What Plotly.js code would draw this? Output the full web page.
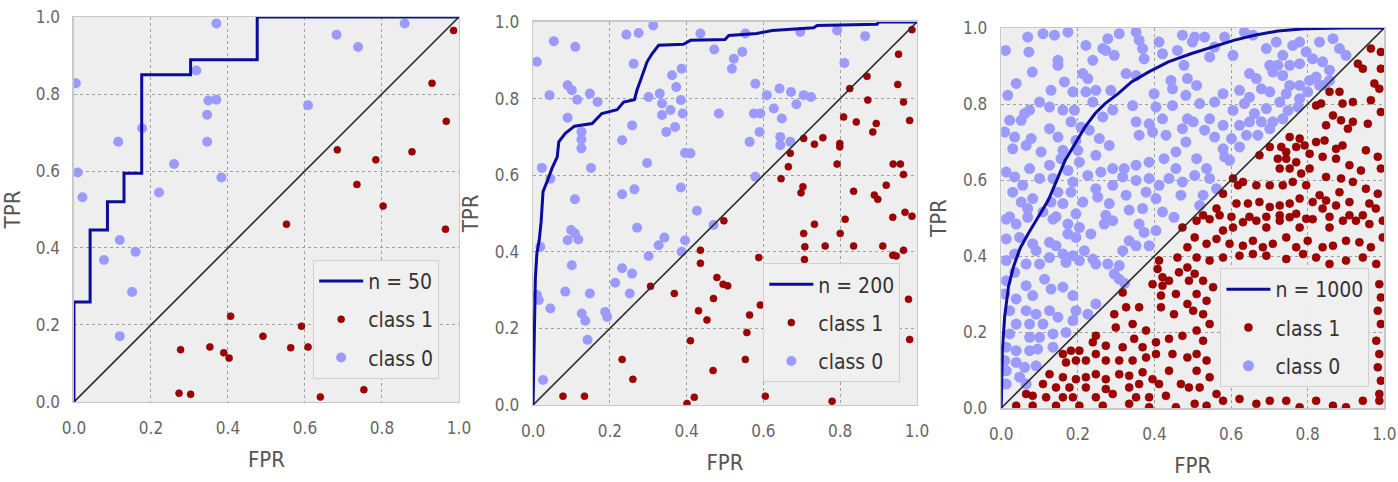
<!DOCTYPE html>
<html>
<head>
<meta charset="utf-8">
<script src="https://cdn.plot.ly/plotly-3.0.1.min.js"></script>
<style>html,body{margin:0;padding:0;background:#fff;}#chart{width:1398px;height:482px;}</style>
</head>
<body>
<div id="chart"></div>
<script>
// ---------------- DATA ----------------
const tickVals = [0, 0.2, 0.4, 0.6, 0.8, 1.0];
const tickText = ["0.0", "0.2", "0.4", "0.6", "0.8", "1.0"];
const diagX = [0, 1];
const diagY = [0, 1];
const legendNames = ["n = 50", "n = 200", "n = 1000"];

// Panel 1 (n = 50)
const p1_fpr = [0, 0, 0.042, 0.042, 0.087, 0.087, 0.13, 0.13, 0.176, 0.176, 0.303, 0.303, 0.476, 0.476, 1.0];
const p1_tpr = [0, 0.26, 0.26, 0.447, 0.447, 0.52, 0.52, 0.594, 0.594, 0.85, 0.85, 0.889, 0.889, 1.0, 1.0];
const p1_class0 = [[0.370,0.983],[0.005,0.828],[0.318,0.861],[0.349,0.783],[0.370,0.785],[0.346,0.746],[0.346,0.676],
  [0.177,0.711],[0.115,0.676],[0.010,0.596],[0.022,0.532],[0.260,0.618],[0.221,0.544],[0.383,0.583],[0.608,0.771],
  [0.682,0.954],[0.738,0.922],[0.859,0.983],[0.119,0.421],[0.078,0.369],[0.160,0.390],[0.151,0.286],[0.119,0.171]];
const p1_class1 = [[0.986,0.965],[0.930,0.828],[0.967,0.729],[0.684,0.655],[0.878,0.650],[0.784,0.629],[0.735,0.565],
  [0.803,0.509],[0.552,0.462],[0.965,0.449],[0.407,0.223],[0.591,0.197],[0.491,0.171],[0.277,0.136],[0.353,0.143],
  [0.389,0.128],[0.403,0.114],[0.563,0.141],[0.608,0.143],[0.273,0.023],[0.303,0.020],[0.640,0.013],[0.753,0.032]];

// Panel 2 (n = 200)
const p2_fpr = [0, 0.006, 0.010, 0.016, 0.021, 0.026, 0.038, 0.049, 0.063, 0.067, 0.084, 0.108, 0.154, 0.179, 0.219,
  0.236, 0.264, 0.271, 0.280, 0.297, 0.310, 0.327, 0.392, 0.410, 0.500, 0.510, 0.583, 0.623, 0.731, 0.740, 0.896, 0.900, 1.0];
const p2_tpr = [0, 0.330, 0.396, 0.430, 0.478, 0.557, 0.587, 0.617, 0.648, 0.687, 0.709, 0.728, 0.735, 0.761, 0.771,
  0.791, 0.797, 0.823, 0.848, 0.896, 0.917, 0.939, 0.942, 0.952, 0.954, 0.965, 0.970, 0.978, 0.985, 0.991, 0.994, 1.0, 1.0];
const p2_class0 = [[0.010,0.896],[0.054,0.950],[0.110,0.935],[0.243,0.967],[0.275,0.971],[0.313,0.991],[0.262,0.891],
  [0.043,0.809],[0.090,0.835],[0.101,0.822],[0.115,0.797],[0.148,0.813],[0.168,0.791],[0.090,0.750],[0.126,0.713],
  [0.126,0.693],[0.126,0.670],[0.151,0.619],[0.023,0.619],[0.045,0.591],[0.232,0.691],[0.258,0.730],[0.301,0.804],
  [0.330,0.813],[0.336,0.787],[0.336,0.757],[0.358,0.770],[0.347,0.713],[0.370,0.726],[0.362,0.861],[0.373,0.830],
  [0.387,0.878],[0.385,0.796],[0.390,0.761],[0.396,0.658],[0.410,0.657],[0.436,0.970],[0.472,0.928],[0.523,0.904],
  [0.518,0.878],[0.545,0.922],[0.553,0.970],[0.484,0.761],[0.579,0.839],[0.575,0.761],[0.592,0.761],[0.564,0.687],
  [0.590,0.713],[0.609,0.809],[0.642,0.826],[0.627,0.774],[0.648,0.748],[0.644,0.700],[0.644,0.678],[0.672,0.817],
  [0.686,0.785],[0.670,0.687],[0.705,0.809],[0.724,0.804],[0.696,0.974],[0.792,0.978],[0.865,0.963],[0.811,0.893],
  [0.579,0.596],[0.470,0.470],[0.427,0.507],[0.396,0.430],[0.387,0.400],[0.342,0.437],[0.327,0.417],[0.301,0.389],
  [0.297,0.632],[0.264,0.563],[0.232,0.550],[0.385,0.568],[0.271,0.463],[0.109,0.537],[0.099,0.457],[0.090,0.430],
  [0.118,0.432],[0.109,0.448],[0.101,0.365],[0.084,0.296],[0.148,0.291],[0.127,0.239],[0.136,0.220],[0.142,0.170],
  [0.045,0.252],[0.015,0.274],[0.010,0.287],[0.019,0.413],[0.188,0.243],[0.193,0.230],[0.214,0.319],[0.232,0.357],
  [0.258,0.343],[0.252,0.291],[0.026,0.065]];
const p2_class1 = [[0.987,0.980],[0.952,0.916],[0.950,0.837],[0.870,0.858],[0.872,0.796],[0.965,0.791],[0.825,0.826],
  [0.809,0.752],[0.842,0.739],[0.894,0.735],[0.885,0.713],[0.981,0.743],[0.705,0.696],[0.733,0.681],[0.755,0.698],
  [0.799,0.683],[0.799,0.674],[0.670,0.657],[0.665,0.622],[0.646,0.591],[0.703,0.570],[0.698,0.554],[0.792,0.629],
  [0.835,0.558],[0.938,0.629],[0.957,0.629],[0.965,0.602],[0.920,0.574],[0.889,0.548],[0.898,0.537],[0.733,0.472],
  [0.705,0.448],[0.708,0.413],[0.813,0.485],[0.800,0.448],[0.761,0.415],[0.835,0.415],[0.911,0.415],[0.937,0.391],
  [0.946,0.389],[0.965,0.404],[0.937,0.490],[0.969,0.503],[0.987,0.493],[0.707,0.380],[0.497,0.481],[0.436,0.404],
  [0.436,0.370],[0.479,0.333],[0.495,0.315],[0.507,0.311],[0.470,0.278],[0.368,0.291],[0.306,0.310],[0.431,0.246],
  [0.453,0.222],[0.564,0.235],[0.557,0.189],[0.592,0.261],[0.588,0.385],[0.410,0.168],[0.232,0.119],[0.260,0.067],
  [0.469,0.090],[0.553,0.119],[0.078,0.023],[0.134,0.023],[0.420,0.020],[0.401,0.004],[0.605,0.023],[0.779,0.010],
  [0.978,0.276],[0.981,0.171]];

// Panel 3 (n = 1000)
const p3_fpr = [0, 0.003, 0.009, 0.019, 0.032, 0.049, 0.071, 0.097, 0.123, 0.149, 0.167, 0.193, 0.219, 0.245, 0.271,
  0.306, 0.340, 0.384, 0.436, 0.497, 0.549, 0.609, 0.661, 0.722, 0.792, 0.896, 1.0];
const p3_tpr = [0, 0.153, 0.241, 0.320, 0.372, 0.420, 0.460, 0.504, 0.547, 0.609, 0.652, 0.696, 0.740, 0.775, 0.801,
  0.828, 0.858, 0.884, 0.911, 0.933, 0.950, 0.968, 0.981, 0.992, 0.998, 1.0, 1.0];
const p3_class0 = [
  [0.011,0.941],[0.069,0.976],[0.072,0.937],[0.109,0.985],[0.139,0.981],[0.174,0.989],[0.148,0.915],[0.148,0.902],
  [0.081,0.884],[0.039,0.854],[0.017,0.823],[0.130,0.836],[0.165,0.858],[0.221,0.954],[0.239,0.915],[0.278,0.972],
  [0.273,0.941],[0.295,0.928],[0.265,0.946],[0.308,0.985],[0.352,0.989],[0.360,0.968],[0.369,0.946],[0.373,0.919],
  [0.412,0.963],[0.421,0.932],[0.460,0.941],[0.473,0.981],[0.499,0.963],[0.326,0.880],[0.352,0.875],[0.213,0.880],
  [0.226,0.867],[0.187,0.832],[0.221,0.832],[0.247,0.836],[0.286,0.836],[0.239,0.805],[0.100,0.805],[0.126,0.792],
  [0.074,0.784],[0.061,0.775],[0.161,0.784],[0.191,0.784],[0.182,0.753],[0.208,0.739],[0.126,0.735],[0.022,0.757],
  [0.052,0.757],[0.009,0.726],[0.035,0.713],[0.078,0.709],[0.065,0.691],[0.030,0.682],[0.148,0.713],[0.161,0.678],
  [0.104,0.674],[0.195,0.704],[0.200,0.678],[0.230,0.731],[0.256,0.709],[0.282,0.691],[0.247,0.665],[0.204,0.647],
  [0.156,0.656],[0.126,0.639],[0.074,0.630],[0.035,0.608],[0.013,0.621],[0.056,0.586],[0.100,0.604],[0.135,0.604],
  [0.174,0.625],[0.187,0.595],[0.226,0.612],[0.260,0.621],[0.291,0.630],[0.321,0.630],[0.352,0.639],[0.317,0.608],
  [0.352,0.599],[0.386,0.604],[0.386,0.647],[0.291,0.586],[0.247,0.577],[0.182,0.568],[0.148,0.568],[0.130,0.542],
  [0.082,0.551],[0.052,0.542],[0.030,0.568],[0.069,0.525],[0.022,0.503],[0.109,0.516],[0.161,0.538],[0.213,0.542],
  [0.252,0.555],[0.282,0.538],[0.326,0.560],[0.378,0.568],[0.412,0.586],[0.438,0.604],[0.404,0.551],[0.421,0.516],
  [0.369,0.525],[0.334,0.521],[0.273,0.507],[0.195,0.511],[0.143,0.503],[0.469,0.560],[0.473,0.595],[0.456,0.630],
  [0.425,0.656],[0.456,0.674],[0.482,0.700],[0.473,0.735],[0.430,0.718],[0.395,0.726],[0.360,0.718],[0.352,0.753],
  [0.386,0.748],[0.421,0.761],[0.447,0.796],[0.486,0.761],[0.447,0.840],[0.399,0.827],[0.343,0.796],[0.291,0.784],
  [0.265,0.766],[0.404,0.792],[0.482,0.823],[0.486,0.867],[0.443,0.862],[0.477,0.902],
  [0.505,0.976],[0.531,0.976],[0.557,0.950],[0.583,0.976],[0.544,0.924],[0.605,0.928],[0.635,0.989],[0.657,0.981],
  [0.692,0.946],[0.718,0.963],[0.735,0.928],[0.761,0.954],[0.779,0.963],[0.796,0.937],[0.831,0.963],[0.866,0.972],
  [0.883,0.946],[0.900,0.928],[0.722,0.902],[0.753,0.902],[0.779,0.906],[0.813,0.919],[0.839,0.911],[0.857,0.889],
  [0.822,0.871],[0.701,0.902],[0.666,0.867],[0.648,0.880],[0.679,0.840],[0.709,0.884],[0.735,0.875],[0.753,0.849],
  [0.779,0.849],[0.805,0.862],[0.831,0.849],[0.845,0.850],[0.857,0.862],[0.510,0.849],[0.579,0.827],[0.622,0.836],
  [0.648,0.818],[0.701,0.832],[0.744,0.827],[0.779,0.814],[0.800,0.832],[0.518,0.801],[0.557,0.805],[0.605,0.783],
  [0.635,0.801],[0.661,0.775],[0.692,0.788],[0.727,0.805],[0.749,0.783],[0.775,0.792],[0.544,0.761],[0.579,0.744],
  [0.622,0.744],[0.531,0.731],[0.557,0.713],[0.648,0.753],[0.679,0.753],[0.709,0.753],[0.735,0.761],[0.601,0.709],
  [0.640,0.718],[0.670,0.718],[0.701,0.735],[0.501,0.753],[0.579,0.682],[0.622,0.687],[0.510,0.656],[0.536,0.630],
  [0.505,0.612],[0.583,0.661],[0.596,0.652],[0.544,0.604],[0.562,0.577],[0.527,0.560],[0.518,0.533],
  [0.013,0.497],[0.039,0.484],[0.069,0.502],[0.135,0.497],[0.174,0.484],[0.204,0.475],[0.234,0.458],[0.269,0.484],
  [0.291,0.493],[0.360,0.484],[0.373,0.462],[0.451,0.502],[0.013,0.445],[0.048,0.449],[0.082,0.432],[0.091,0.414],
  [0.126,0.436],[0.143,0.427],[0.174,0.458],[0.195,0.449],[0.217,0.414],[0.239,0.392],[0.204,0.388],[0.169,0.383],
  [0.187,0.401],[0.161,0.405],[0.126,0.396],[0.100,0.379],[0.065,0.379],[0.035,0.405],[0.013,0.388],[0.035,0.357],
  [0.013,0.335],[0.009,0.300],[0.039,0.287],[0.022,0.256],[0.065,0.322],[0.082,0.296],[0.113,0.339],[0.130,0.313],
  [0.161,0.318],[0.187,0.296],[0.247,0.379],[0.278,0.379],[0.308,0.375],[0.317,0.414],[0.334,0.440],[0.352,0.427],
  [0.386,0.427],[0.404,0.467],[0.308,0.339],[0.322,0.328],[0.295,0.353],[0.065,0.256],[0.091,0.247],[0.126,0.256],
  [0.148,0.239],[0.109,0.221],[0.074,0.221],[0.039,0.221],[0.022,0.195],[0.074,0.186],[0.100,0.186],[0.135,0.195],
  [0.169,0.199],[0.195,0.256],[0.226,0.247],[0.247,0.274],[0.187,0.230],[0.013,0.160],[0.039,0.151],[0.074,0.151],
  [0.095,0.155],[0.135,0.160],[0.009,0.125],[0.039,0.120],[0.061,0.107],[0.091,0.111],[0.013,0.098],[0.048,0.081],
  [0.013,0.063],[0.065,0.063]];
const p3_class1 = [
  [0.965,0.946],[0.991,0.937],[0.931,0.906],[0.944,0.893],[0.991,0.893],[0.974,0.854],[0.987,0.840],[0.857,0.832],
  [0.883,0.832],[0.918,0.805],[0.891,0.801],[0.965,0.810],[0.822,0.796],[0.835,0.801],[0.866,0.770],[0.887,0.757],
  [0.918,0.753],[0.957,0.748],[0.991,0.779],[0.848,0.744],[0.905,0.735],[0.753,0.713],[0.779,0.709],[0.792,0.691],
  [0.770,0.687],[0.731,0.687],[0.701,0.687],[0.744,0.674],[0.822,0.700],[0.844,0.704],[0.874,0.682],[0.891,0.691],
  [0.952,0.678],[0.983,0.661],[0.991,0.630],[0.674,0.665],[0.722,0.656],[0.744,0.656],[0.770,0.647],[0.805,0.669],
  [0.839,0.661],[0.874,0.656],[0.909,0.639],[0.939,0.625],[0.727,0.630],[0.753,0.630],[0.783,0.617],[0.805,0.630],
  [0.848,0.608],[0.887,0.604],[0.918,0.595],[0.952,0.577],[0.983,0.564],[0.605,0.604],[0.618,0.586],[0.631,0.595],
  [0.666,0.586],[0.701,0.586],[0.735,0.586],[0.761,0.595],[0.796,0.586],[0.831,0.560],[0.848,0.546],[0.883,0.568],
  [0.909,0.542],[0.961,0.538],[0.579,0.564],[0.614,0.538],[0.644,0.538],[0.674,0.542],[0.701,0.529],[0.727,0.533],
  [0.753,0.538],[0.779,0.551],[0.813,0.542],[0.839,0.525],[0.874,0.533],[0.944,0.507],[0.562,0.525],[0.570,0.507],
  [0.527,0.507],[0.601,0.503],[0.648,0.503],[0.692,0.503],[0.727,0.507],[0.770,0.511],[0.796,0.498],[0.857,0.503],
  [0.909,0.507],[0.978,0.525],
  [0.473,0.475],[0.486,0.423],[0.460,0.396],[0.486,0.370],[0.412,0.388],[0.408,0.366],[0.421,0.344],[0.395,0.326],
  [0.438,0.335],[0.464,0.357],[0.490,0.335],[0.317,0.304],[0.360,0.265],[0.326,0.265],[0.421,0.322],[0.417,0.296],
  [0.456,0.300],[0.486,0.274],[0.417,0.265],[0.451,0.247],[0.295,0.247],[0.299,0.212],[0.247,0.190],[0.273,0.164],
  [0.239,0.173],[0.343,0.221],[0.378,0.204],[0.347,0.182],[0.317,0.160],[0.369,0.160],[0.404,0.173],[0.438,0.182],
  [0.473,0.190],[0.182,0.151],[0.204,0.151],[0.221,0.125],[0.195,0.125],[0.161,0.142],[0.169,0.120],[0.273,0.125],
  [0.247,0.142],[0.308,0.125],[0.343,0.125],[0.378,0.133],[0.404,0.142],[0.447,0.142],[0.486,0.133],[0.126,0.089],
  [0.161,0.081],[0.195,0.076],[0.221,0.081],[0.247,0.089],[0.273,0.076],[0.308,0.089],[0.334,0.085],[0.369,0.094],
  [0.395,0.076],[0.438,0.098],[0.469,0.063],[0.490,0.054],[0.109,0.063],[0.143,0.054],[0.178,0.054],[0.221,0.054],
  [0.273,0.050],[0.334,0.054],[0.360,0.063],[0.412,0.063],[0.117,0.028],[0.161,0.028],[0.187,0.028],[0.247,0.028],
  [0.291,0.037],[0.352,0.028],[0.386,0.028],[0.430,0.032],[0.039,0.006],[0.082,0.006],[0.143,0.006],[0.204,0.006],
  [0.265,0.006],[0.334,0.011],[0.386,0.002],[0.456,0.002],[0.065,0.037],[0.082,0.032],
  [0.510,0.493],[0.544,0.497],[0.579,0.467],[0.605,0.475],[0.631,0.489],[0.666,0.493],[0.692,0.475],[0.727,0.493],
  [0.753,0.502],[0.779,0.475],[0.813,0.497],[0.857,0.475],[0.892,0.493],[0.926,0.493],[0.961,0.484],[0.996,0.493],
  [0.505,0.449],[0.536,0.432],[0.562,0.445],[0.596,0.432],[0.631,0.427],[0.657,0.440],[0.683,0.423],[0.709,0.432],
  [0.744,0.449],[0.770,0.423],[0.800,0.440],[0.839,0.423],[0.866,0.427],[0.900,0.440],[0.935,0.436],[0.965,0.423],
  [0.996,0.449],[0.510,0.396],[0.544,0.388],[0.579,0.396],[0.622,0.401],[0.657,0.405],[0.692,0.401],[0.744,0.392],
  [0.788,0.405],[0.822,0.396],[0.857,0.379],[0.900,0.388],[0.944,0.396],[0.979,0.379],[0.505,0.353],[0.527,0.335],
  [0.553,0.318],[0.510,0.300],[0.536,0.282],[0.501,0.256],[0.527,0.247],[0.544,0.221],[0.510,0.204],[0.527,0.177],
  [0.510,0.142],[0.536,0.125],[0.510,0.098],[0.544,0.081],[0.518,0.054],[0.562,0.037],[0.505,0.011],[0.536,0.006],
  [0.579,0.019],[0.622,0.024],[0.666,0.011],[0.701,0.019],[0.744,0.019],[0.779,0.002],[0.822,0.019],[0.866,0.006],
  [0.900,0.002],[0.944,0.019],[0.987,0.019],[0.987,0.326],[0.991,0.291],[0.983,0.256],[0.991,0.221],[0.979,0.177],
  [0.987,0.142],[0.983,0.107],[0.991,0.072],[0.987,0.037]];

// ---------------- STYLE ----------------
const FONT = '"DejaVu Sans Condensed", "Liberation Sans Narrow", sans-serif';
const C_ROC = '#0c0c9c';
const C_C1 = '#a00000';
const C_C0 = '#9b9bff';
const sizes0 = [10, 10, 11];
const sizes1 = [7, 7, 8];

const panels = [
  {fpr: p1_fpr, tpr: p1_tpr, c0: p1_class0, c1: p1_class1},
  {fpr: p2_fpr, tpr: p2_tpr, c0: p2_class0, c1: p2_class1},
  {fpr: p3_fpr, tpr: p3_tpr, c0: p3_class0, c1: p3_class1}
];

const traces = [];
panels.forEach((p, i) => {
  const sfx = i === 0 ? '' : String(i + 1);
  const xa = 'x' + sfx, ya = 'y' + sfx, lg = 'legend' + sfx;
  traces.push({type: 'scatter', mode: 'markers', x: p.c0.map(d => d[0]), y: p.c0.map(d => d[1]),
    xaxis: xa, yaxis: ya, name: 'class 0', legend: lg, legendgroup: 'c0' + i, legendrank: 3,
    marker: {color: C_C0, size: sizes0[i], line: {width: 0}}, hoverinfo: 'skip'});
  traces.push({type: 'scatter', mode: 'markers', x: p.c1.map(d => d[0]), y: p.c1.map(d => d[1]),
    xaxis: xa, yaxis: ya, name: 'class 1', legend: lg, legendgroup: 'c1' + i, legendrank: 2,
    marker: {color: C_C1, size: sizes1[i], line: {width: 0.6, color: '#800000'}}, hoverinfo: 'skip'});
  traces.push({type: 'scatter', mode: 'lines', x: diagX, y: diagY, xaxis: xa, yaxis: ya,
    showlegend: false, line: {color: '#2a2a2a', width: 1.6}, hoverinfo: 'skip'});
  traces.push({type: 'scatter', mode: 'lines', x: p.fpr, y: p.tpr, xaxis: xa, yaxis: ya,
    name: legendNames[i], legend: lg, legendgroup: 'roc' + i, legendrank: 1,
    line: {color: C_ROC, width: 3}, hoverinfo: 'skip'});
});

function xax(domain, anchor) {
  return {domain: domain, anchor: anchor, range: [0, 1], tickvals: tickVals, ticktext: tickText,
    showgrid: true, gridcolor: '#a0a0a0', griddash: 'dot', gridwidth: 1, zeroline: false,
    showline: true, mirror: true, linecolor: '#c8c8c8', linewidth: 1.5, ticks: '',
    ticklabeloverflow: 'allow', ticklabelstandoff: 10, tickfont: {family: FONT, size: 17, color: '#666'},
    title: {text: 'FPR', font: {family: FONT, size: 22, color: '#555'}, standoff: 14}, fixedrange: true};
}
function yax(domain, anchor) {
  return {domain: domain, anchor: anchor, range: [0, 1], tickvals: tickVals, ticktext: tickText,
    showgrid: true, gridcolor: '#a0a0a0', griddash: 'dot', gridwidth: 1, zeroline: false,
    showline: true, mirror: true, linecolor: '#c8c8c8', linewidth: 1.5, ticks: '',
    ticklabeloverflow: 'allow', ticklabelstandoff: 9, tickfont: {family: FONT, size: 17, color: '#666'},
    title: {text: 'TPR', font: {family: FONT, size: 22, color: '#555'}, standoff: 10}, fixedrange: true};
}
function leg(x, y) {
  return {x: x, y: y, xanchor: 'left', yanchor: 'top', bgcolor: 'rgba(240,240,240,0.97)',
    bordercolor: '#d0d0d0', borderwidth: 1, font: {family: FONT, size: 21, color: '#333'},
    traceorder: 'grouped', tracegroupgap: 8, itemwidth: 44};
}

const layout = {
  width: 1398, height: 482,
  margin: {l: 0, r: 0, t: 0, b: 0},
  paper_bgcolor: '#ffffff', plot_bgcolor: '#eeeeee',
  font: {family: FONT},
  xaxis: xax([0.0529, 0.3283], 'y'), yaxis: yax([0.166, 0.9647], 'x'),
  xaxis2: xax([0.3813, 0.6559], 'y2'), yaxis2: yax([0.1598, 0.9544], 'x2'),
  xaxis3: xax([0.7162, 0.9902], 'y3'), yaxis3: yax([0.1535, 0.9419], 'x3'),
  legend: leg(0.224, 0.461), legend2: leg(0.546, 0.454), legend3: leg(0.873, 0.444),
  showlegend: true
};

Plotly.newPlot('chart', traces, layout, {displayModeBar: false, staticPlot: true});
</script>
</body>
</html>
